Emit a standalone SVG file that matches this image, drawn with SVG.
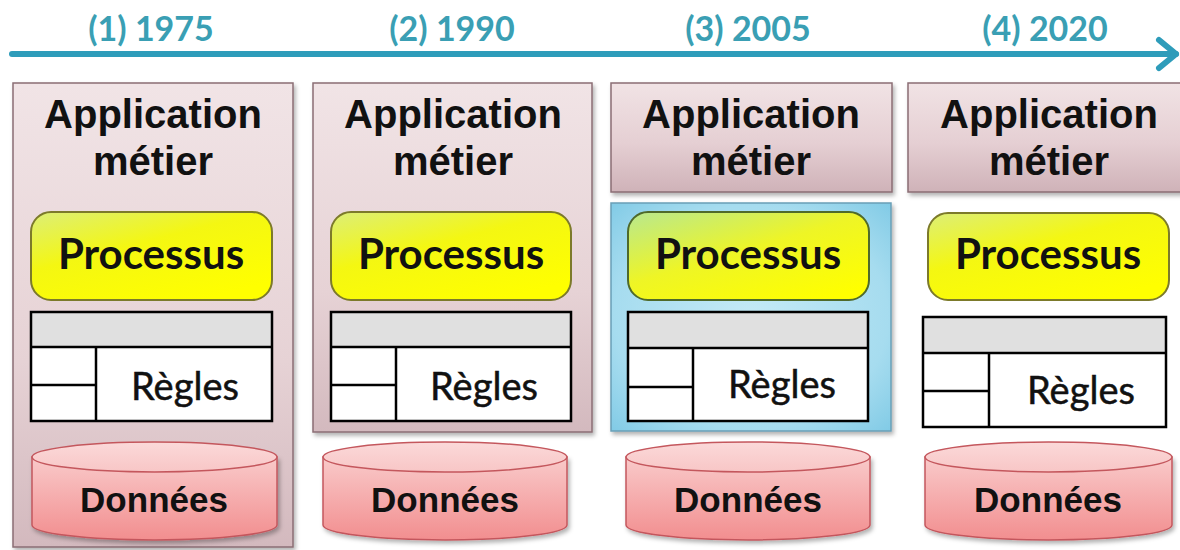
<svg xmlns="http://www.w3.org/2000/svg" width="1180" height="550" viewBox="0 0 1180 550">
<defs>
  <linearGradient id="gPanel" x1="0" y1="0" x2="0" y2="1">
    <stop offset="0" stop-color="#f1e4e6"/>
    <stop offset="0.6" stop-color="#e6d2d5"/>
    <stop offset="1" stop-color="#d3b9be"/>
  </linearGradient>
  <linearGradient id="gHead" x1="0" y1="0" x2="0" y2="1">
    <stop offset="0" stop-color="#f1e3e5"/>
    <stop offset="0.55" stop-color="#e5cfd3"/>
    <stop offset="1" stop-color="#cfb2b8"/>
  </linearGradient>
  <radialGradient id="gBlue" cx="0.5" cy="0.5" r="0.7">
    <stop offset="0" stop-color="#c4eaf6"/>
    <stop offset="0.7" stop-color="#a6dcef"/>
    <stop offset="1" stop-color="#82cbe6"/>
  </radialGradient>
  <linearGradient id="gProc" x1="0" y1="0" x2="0.7" y2="1">
    <stop offset="0" stop-color="#dcee78"/>
    <stop offset="0.45" stop-color="#f4f712"/>
    <stop offset="1" stop-color="#ffff00"/>
  </linearGradient>
  <linearGradient id="gProc3" x1="0" y1="0" x2="0.8" y2="1">
    <stop offset="0" stop-color="#b8e890"/>
    <stop offset="0.5" stop-color="#eef526"/>
    <stop offset="1" stop-color="#ffff00"/>
  </linearGradient>
  <linearGradient id="gCyl" x1="0" y1="0" x2="0" y2="1">
    <stop offset="0" stop-color="#f9caca"/>
    <stop offset="1" stop-color="#f28e8f"/>
  </linearGradient>
  <linearGradient id="gCylTop" x1="0" y1="0" x2="0" y2="1">
    <stop offset="0" stop-color="#fbd9d9"/>
    <stop offset="1" stop-color="#f8c6c6"/>
  </linearGradient>
  <filter id="shadow" x="-5%" y="-5%" width="115%" height="115%">
    <feDropShadow dx="2" dy="3" stdDeviation="2" flood-color="#000" flood-opacity="0.3"/>
  </filter>
  <style>
    .year{font-family:Lato,"Open Sans",sans-serif;font-weight:bold;font-size:34px;fill:#3a9fb4;text-anchor:middle}
    .panel{fill:url(#gPanel);stroke:#8a6e74;stroke-width:1.5}
    .head{fill:url(#gHead);stroke:#8a6e74;stroke-width:1.5}
    .app{font-family:"Liberation Sans",Arial,sans-serif;font-weight:bold;font-size:40px;fill:#111;text-anchor:middle}
    .proc{fill:url(#gProc);stroke:#7c7a2a;stroke-width:2}
    .proc3{fill:url(#gProc3);stroke:#4f6a2a;stroke-width:2}
    .ptxt{font-family:Lato,"Open Sans",sans-serif;font-weight:bold;font-size:42px;fill:#111;text-anchor:middle}
    .thead{fill:#e0e0e0;stroke:none}
    .tbody{fill:#fff;stroke:none}
    .tline{fill:none;stroke:#000;stroke-width:2.5}
    .rtxt{font-family:Lato,"Open Sans",sans-serif;font-size:38px;fill:#111;stroke:#111;stroke-width:0.5;text-anchor:middle}
    .cyl{fill:url(#gCyl);stroke:#c4575d;stroke-width:1.5}
    .cyltop{fill:url(#gCylTop);stroke:#c4575d;stroke-width:1.5}
    .dtxt{font-family:"Liberation Sans",Arial,sans-serif;font-weight:bold;font-size:35px;fill:#111;text-anchor:middle}
    .arrow{fill:none;stroke:#2e9cba;stroke-width:6;stroke-linecap:round;stroke-linejoin:round}
  </style>
</defs>
<rect width="1180" height="550" fill="#fff"/>

<g id="connectors">
  <line class="arrow" x1="12" y1="54" x2="1176" y2="54"/>
  <polyline class="arrow" points="1159,40 1176,54 1159,68"/>
</g>

<g id="years">
  <text class="year" x="151" y="41">(1) 1975</text>
  <text class="year" x="452" y="41">(2) 1990</text>
  <text class="year" x="748" y="41">(3) 2005</text>
  <text class="year" x="1045" y="41">(4) 2020</text>
</g>

<!-- Panel 1 (1975) -->
<g id="app1">
  <rect class="panel" x="13" y="83" width="280" height="464" filter="url(#shadow)"/>
  <text class="app" x="153" y="128">Application</text>
  <text class="app" x="153" y="175">métier</text>
</g>
<g id="proc1">
  <rect class="proc" x="31" y="212" width="241" height="88" rx="20"/>
  <text class="ptxt" x="151" y="269">Processus</text>
</g>
<g id="rules1">
  <rect class="thead" x="31" y="312" width="241" height="35"/>
  <rect class="tbody" x="31" y="347" width="241" height="74"/>
  <rect class="tline" x="31" y="312" width="241" height="109"/>
  <line class="tline" x1="31" y1="347" x2="272" y2="347"/>
  <line class="tline" x1="96" y1="347" x2="96" y2="421"/>
  <line class="tline" x1="31" y1="385" x2="96" y2="385"/>
  <text class="rtxt" x="185" y="400">Règles</text>
</g>
<g id="data1">
  <path class="cyl" d="M32,457 L32,525 A122.5,15 0 0 0 277,525 L277,457 Z" filter="url(#shadow)"/>
  <ellipse class="cyltop" cx="154.5" cy="457" rx="122.5" ry="15"/>
  <text class="dtxt" x="154" y="512">Données</text>
</g>

<!-- Panel 2 (1990) -->
<g id="app2">
  <rect class="panel" x="313" y="83" width="279" height="349" filter="url(#shadow)"/>
  <text class="app" x="453" y="128">Application</text>
  <text class="app" x="453" y="175">métier</text>
</g>
<g id="proc2">
  <rect class="proc" x="331" y="212" width="240" height="88" rx="20"/>
  <text class="ptxt" x="451" y="269">Processus</text>
</g>
<g id="rules2">
  <rect class="thead" x="331" y="312" width="240" height="35"/>
  <rect class="tbody" x="331" y="347" width="240" height="74"/>
  <rect class="tline" x="331" y="312" width="240" height="109"/>
  <line class="tline" x1="331" y1="347" x2="571" y2="347"/>
  <line class="tline" x1="396" y1="347" x2="396" y2="421"/>
  <line class="tline" x1="331" y1="385" x2="396" y2="385"/>
  <text class="rtxt" x="484" y="400">Règles</text>
</g>
<g id="data2">
  <path class="cyl" d="M323,457 L323,525 A122,15 0 0 0 567,525 L567,457 Z" filter="url(#shadow)"/>
  <ellipse class="cyltop" cx="445" cy="457" rx="122" ry="15"/>
  <text class="dtxt" x="445" y="512">Données</text>
</g>

<!-- Panel 3 (2005) -->
<g id="app3">
  <rect class="head" x="611" y="83" width="281" height="109" filter="url(#shadow)"/>
  <text class="app" x="751" y="128">Application</text>
  <text class="app" x="751" y="175">métier</text>
</g>
<g id="service3">
  <rect x="611" y="203" width="280" height="228" fill="url(#gBlue)" stroke="#6a9fb6" stroke-width="1.5" filter="url(#shadow)"/>
</g>
<g id="proc3">
  <rect class="proc3" x="628" y="212" width="241" height="88" rx="20"/>
  <text class="ptxt" x="748" y="269">Processus</text>
</g>
<g id="rules3">
  <rect class="thead" x="628" y="312" width="240" height="36"/>
  <rect class="tbody" x="628" y="348" width="240" height="73"/>
  <rect class="tline" x="628" y="312" width="240" height="109"/>
  <line class="tline" x1="628" y1="348" x2="868" y2="348"/>
  <line class="tline" x1="693" y1="348" x2="693" y2="421"/>
  <line class="tline" x1="628" y1="387" x2="693" y2="387"/>
  <text class="rtxt" x="782" y="398">Règles</text>
</g>
<g id="data3">
  <path class="cyl" d="M626,457 L626,525 A122,15 0 0 0 870,525 L870,457 Z" filter="url(#shadow)"/>
  <ellipse class="cyltop" cx="748" cy="457" rx="122" ry="15"/>
  <text class="dtxt" x="748" y="512">Données</text>
</g>

<!-- Panel 4 (2020) -->
<g id="app4">
  <rect class="head" x="908" y="83" width="284" height="109" filter="url(#shadow)"/>
  <text class="app" x="1049" y="128">Application</text>
  <text class="app" x="1049" y="175">métier</text>
</g>
<g id="proc4">
  <rect class="proc" x="928" y="213" width="241" height="87" rx="20"/>
  <text class="ptxt" x="1048" y="269">Processus</text>
</g>
<g id="rules4">
  <rect class="thead" x="923" y="317" width="243" height="36"/>
  <rect class="tbody" x="923" y="353" width="243" height="74"/>
  <rect class="tline" x="923" y="317" width="243" height="110"/>
  <line class="tline" x1="923" y1="353" x2="1166" y2="353"/>
  <line class="tline" x1="989" y1="353" x2="989" y2="427"/>
  <line class="tline" x1="923" y1="391" x2="989" y2="391"/>
  <text class="rtxt" x="1081" y="404">Règles</text>
</g>
<g id="data4">
  <path class="cyl" d="M925,457 L925,525 A123.5,15 0 0 0 1172,525 L1172,457 Z" filter="url(#shadow)"/>
  <ellipse class="cyltop" cx="1048.5" cy="457" rx="123.5" ry="15"/>
  <text class="dtxt" x="1048" y="512">Données</text>
</g>
</svg>
